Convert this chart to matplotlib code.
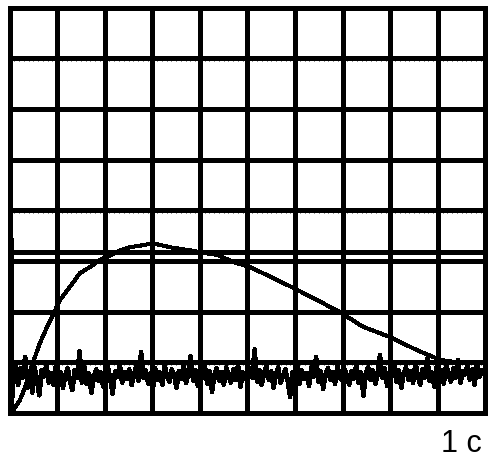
import numpy as np
import matplotlib.pyplot as plt

# screen divisions
n_cols = 10
n_rows = 8
marker_level = 3.18   # extra horizontal reference line (div)

# slow response curve (div, div)
curve_x = [0.05, 0.22, 0.33, 0.49, 0.64, 0.79, 0.96, 1.06, 1.27, 1.48, 1.69,
           1.90, 2.05, 2.32, 2.53, 2.80, 3.01, 3.37, 3.79, 4.07, 4.36, 4.70,
           5.05, 5.41, 5.96, 6.46, 6.94, 7.43, 7.99, 8.56, 9.04, 9.46]
curve_y = [0.02, 0.26, 0.51, 0.99, 1.38, 1.70, 2.03, 2.23, 2.49, 2.76, 2.88,
           3.02, 3.08, 3.21, 3.27, 3.31, 3.35, 3.27, 3.21, 3.16, 3.12, 2.98,
           2.88, 2.72, 2.47, 2.23, 1.99, 1.70, 1.50, 1.24, 1.05, 0.99]

# start-of-sweep spike on the left edge
lead_x = [0.04, 0.04, 0.08]
lead_y = [3.40, 0.02, 0.62]

# noisy baseline trace (div), sampled across the screen
noise_y = [
    0.62, 0.95, 0.55, 0.88, 0.70, 1.10, 0.50, 0.82, 0.40, 0.90, 0.65, 0.35, 0.85, 0.72, 0.95, 0.60, 0.78, 0.55, 0.92, 0.68,
    0.80, 0.50, 0.75, 0.88, 0.62, 0.45, 0.85, 0.70, 1.22, 0.60, 0.92, 0.58, 0.78, 0.40, 0.70, 0.86, 0.64, 0.80, 0.52, 0.74,
    0.90, 0.66, 0.38, 0.82, 0.72, 0.96, 0.60, 0.80, 0.68, 0.86, 0.55, 0.76, 0.92, 0.64, 1.20, 0.70, 0.84, 0.58, 0.78, 0.48,
    0.88, 0.66, 0.80, 0.56, 0.94, 0.72, 0.62, 0.86, 0.74, 0.50, 0.82, 0.68, 0.96, 0.60, 0.76, 1.12, 0.64, 0.84, 0.54, 0.78,
    0.70, 0.92, 0.58, 0.82, 0.42, 0.76, 0.88, 0.64, 0.80, 0.56, 0.90, 0.72, 0.60, 0.86, 0.66, 0.94, 0.52, 0.80, 0.74, 0.62,
    0.88, 0.70, 1.25, 0.62, 0.84, 0.56, 0.78, 0.92, 0.66, 0.82, 0.50, 0.76, 0.90, 0.60, 0.74, 0.86, 0.64, 0.32, 0.80, 0.70,
    0.94, 0.58, 0.84, 0.68, 0.78, 0.54, 0.90, 0.72, 1.10, 0.62, 0.82, 0.48, 0.76, 0.88, 0.66, 0.80, 0.58, 0.92, 0.70, 0.64,
    0.86, 0.74, 0.56, 0.82, 0.68, 0.96, 0.60, 0.80, 0.34, 0.78, 0.90, 0.66, 0.84, 0.58, 0.76, 1.14, 0.70, 0.88, 0.54, 0.80,
    0.72, 0.94, 0.62, 0.84, 0.50, 0.78, 0.90, 0.66, 0.82, 0.60, 0.98, 0.74, 0.56, 0.86, 0.70, 1.08, 0.64, 0.80, 0.52, 0.92,
    0.68, 0.84, 0.58, 0.96, 0.74, 0.62, 0.88, 0.70, 1.04, 0.60, 0.82, 0.76, 0.94, 0.66, 0.86, 0.56, 1.00, 0.72, 0.84, 0.78,
]
noise_x = np.linspace(0.08, 9.97, len(noise_y))

time_label = "1 с"

plt.rcParams['lines.antialiased'] = False
plt.rcParams['patch.antialiased'] = False

W, H = 497, 458
fig = plt.figure(figsize=(W / 100, H / 100), dpi=100)
ax = fig.add_axes([9.5 / W, (H - 413) / H, 476 / W, 405.5 / H])
ax.set_xlim(0, n_cols)
ax.set_ylim(0, n_rows)
ax.set_xticks([])
ax.set_yticks([])
for s in ax.spines.values():
    s.set_linewidth(2.3)
    s.set_color("black")
    s.set_antialiased(False)

grid_lw = 2.3
for i in range(1, n_cols):
    ax.axvline(i, color="black", lw=grid_lw)
for j in range(1, n_rows):
    ax.axhline(j, color="black", lw=grid_lw)
ax.axhline(marker_level, color="black", lw=grid_lw)

# little sub-division dots under the horizontal lines
sub_x = np.arange(0.1, n_cols, 0.1)
for j in range(1, n_rows + 1):
    ax.plot(sub_x, np.full_like(sub_x, j - 0.03), ls="none", marker="|",
            ms=1.8, mew=0.6, color="black", clip_on=False)

ax.plot(lead_x, lead_y, color="black", lw=2.4, solid_joinstyle="miter")
ax.plot(noise_x, noise_y, color="black", lw=2.6)
ax.plot(curve_x, curve_y, color="black", lw=2.2)

fig.text(482 / W, (H - 452) / H, time_label, ha="right", va="baseline",
         fontsize=22, family="Liberation Sans")

fig.savefig("out.png", dpi=100)
